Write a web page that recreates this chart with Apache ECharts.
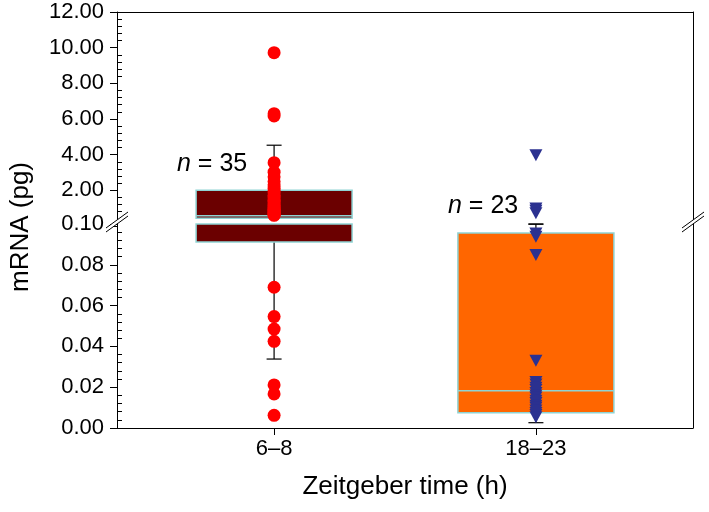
<!DOCTYPE html>
<html><head><meta charset="utf-8">
<script src="https://cdn.jsdelivr.net/npm/echarts@6/dist/echarts.min.js"></script>
<style>html,body{margin:0;padding:0;background:#fff}#c{width:709px;height:512px}</style>
</head><body><div id="c"></div>
<script>
// ---- data ----
const categories = ['6–8', '18–23'];
const groupN = [35, 23];
const group1Values = [9.72, 6.30, 6.17, 3.55, 3.02, 2.76, 2.49, 2.31, 2.12, 1.98, 1.86, 1.71, 1.62, 1.49, 1.41, 1.34, 1.24, 1.16, 1.07, 1.01, 0.94, 0.88, 0.83, 0.77, 0.71, 0.67, 0.63, 0.60,
  0.069, 0.0546, 0.0485, 0.0425, 0.0211, 0.0167, 0.0062];
const group2Values = [3.97, 0.98, 0.86, 0.72,
  0.0954, 0.0938, 0.0848, 0.033, 0.0226, 0.0213, 0.0197, 0.0186, 0.0172, 0.0159, 0.0149, 0.0133, 0.0122, 0.0109, 0.0099, 0.0086, 0.0073, 0.0064, 0.0053];
// box stats: [whiskerLow, q1, median, q3, whiskerHigh]
const group1Box = [0.0338, 0.0912, 0.58, 2.0, 4.53];
const group2Box = [0.0026, 0.0075, 0.0183, 0.0956, 0.1];
const lowerTickInterval = 0.02, upperTickInterval = 2;
const BREAK_AT = 0.1;      // top of the lower segment
const UPPER_BOX_CUT = 0.43; // box gap below the break in the upper segment

// ---- style ----
const FONT = 'Liberation Sans, Arial, sans-serif';
const boxFill = ['#6b0000', '#ff6600'];
const boxEdge = '#8fd3d3';
const BOX_W = 156, CAP_W = 15;

function clampSeg(a, b, lo, hi) {
  const s = Math.max(Math.min(a, b), lo), e = Math.min(Math.max(a, b), hi);
  return s < e ? [s, e] : null;
}
function makeRender(segLo, segHi, boxLo) {
  return function (params, api) {
    const x = api.value(0);
    const lo = api.value(1), q1 = api.value(2), med = api.value(3), q3 = api.value(4), hi = api.value(5);
    const children = [];
    const lineStyle = { stroke: '#000', lineWidth: 1.2 };
    const vline = (s) => {
      const p1 = api.coord([x, s[0]]), p2 = api.coord([x, s[1]]);
      children.push({ type: 'line', shape: { x1: p1[0], y1: p1[1], x2: p2[0], y2: p2[1] }, style: lineStyle });
    };
    const cap = (v) => {
      const p = api.coord([x, v]);
      children.push({ type: 'line', shape: { x1: p[0] - CAP_W / 2, y1: p[1], x2: p[0] + CAP_W / 2, y2: p[1] }, style: lineStyle });
    };
    let s = clampSeg(q3, hi, segLo, segHi); if (s) vline(s);
    if (hi >= segLo && hi <= segHi) cap(hi);
    s = clampSeg(lo, q1, segLo, segHi); if (s) vline(s);
    if (lo >= segLo && lo <= segHi) cap(lo);
    s = clampSeg(q1, q3, boxLo, segHi);
    if (s) {
      const top = api.coord([x, s[1]]), bot = api.coord([x, s[0]]);
      children.push({ type: 'rect', shape: { x: top[0] - BOX_W / 2, y: top[1], width: BOX_W, height: bot[1] - top[1] },
        style: { fill: boxFill[params.dataIndex], stroke: boxEdge, lineWidth: 1.5 } });
    }
    if (med >= boxLo && med <= segHi) {
      const p = api.coord([x, med]);
      children.push({ type: 'line', shape: { x1: p[0] - BOX_W / 2, y1: p[1], x2: p[0] + BOX_W / 2, y2: p[1] },
        style: { stroke: boxEdge, lineWidth: 1.5 } });
    }
    return { type: 'group', children };
  };
}
const boxData = [[1, ...group1Box], [2, ...group2Box]];
const pts = (vals, pos, upper) => vals.filter(v => upper ? v > BREAK_AT : v <= BREAK_AT).map(v => [pos, v]);

const yTickLabel = { fontSize: 22, color: '#000', fontFamily: FONT, margin: 13 };
const axisLineBlack = { show: true, onZero: false, lineStyle: { color: '#000', width: 1 } };

const chart = echarts.init(document.getElementById('c'), null, { renderer: 'canvas' });
chart.setOption({
  animation: false,
  textStyle: { fontFamily: FONT },
  grid: [
    { left: 117, right: 16, top: 12, height: 214 },
    { left: 117, right: 16, top: 224, bottom: 84 }
  ],
  xAxis: [
    { gridIndex: 0, type: 'value', min: 0.4, max: 2.6, position: 'top',
      axisLine: axisLineBlack, axisTick: { show: false }, axisLabel: { show: false }, splitLine: { show: false } },
    { gridIndex: 1, type: 'value', min: 0.4, max: 2.6, position: 'bottom',
      axisLine: axisLineBlack,
      axisTick: { show: true, customValues: [1, 2], length: 7, lineStyle: { color: '#000' } },
      axisLabel: { customValues: [1, 2], formatter: v => categories[Math.round(v) - 1] || '', fontSize: 22, color: '#000', margin: 10, fontFamily: FONT },
      splitLine: { show: false },
      name: 'Zeitgeber time (h)', nameLocation: 'middle', nameGap: 46,
      nameTextStyle: { fontSize: 26, color: '#000', fontFamily: FONT } }
  ],
  yAxis: [
    { gridIndex: 0, type: 'value', min: 0, max: 12, interval: upperTickInterval, position: 'left',
      axisLine: axisLineBlack, axisTick: { show: true, length: 7, lineStyle: { color: '#000' } },
      minorTick: { show: true, splitNumber: 5, length: -5, lineStyle: { color: '#000' } },
      axisLabel: Object.assign({ formatter: v => v === 0 ? '' : v.toFixed(2) }, yTickLabel),
      splitLine: { show: false } },
    { gridIndex: 0, type: 'value', min: 0, max: 12, position: 'right',
      axisLine: axisLineBlack, axisTick: { show: false }, axisLabel: { show: false }, splitLine: { show: false } },
    { gridIndex: 1, type: 'value', min: 0, max: BREAK_AT, interval: lowerTickInterval, position: 'left',
      axisLine: axisLineBlack, axisTick: { show: true, length: 7, lineStyle: { color: '#000' } },
      minorTick: { show: true, splitNumber: 5, length: -5, lineStyle: { color: '#000' } },
      axisLabel: Object.assign({ formatter: v => v.toFixed(2) }, yTickLabel),
      splitLine: { show: false } },
    { gridIndex: 1, type: 'value', min: 0, max: BREAK_AT, position: 'right',
      axisLine: axisLineBlack, axisTick: { show: false }, axisLabel: { show: false }, splitLine: { show: false } }
  ],
  series: [
    { type: 'custom', xAxisIndex: 0, yAxisIndex: 0, data: boxData, renderItem: makeRender(BREAK_AT, 12, UPPER_BOX_CUT), z: 2, clip: false },
    { type: 'custom', xAxisIndex: 1, yAxisIndex: 2, data: boxData, renderItem: makeRender(0, BREAK_AT, 0), z: 2, clip: false },
    { type: 'scatter', xAxisIndex: 0, yAxisIndex: 0, data: pts(group1Values, 1, true), symbol: 'circle', symbolSize: 13, itemStyle: { color: '#ff0000', opacity: 1 }, z: 5 },
    { type: 'scatter', xAxisIndex: 1, yAxisIndex: 2, data: pts(group1Values, 1, false), symbol: 'circle', symbolSize: 13, itemStyle: { color: '#ff0000', opacity: 1 }, z: 5 },
    { type: 'scatter', xAxisIndex: 0, yAxisIndex: 0, data: pts(group2Values, 2, true), symbol: 'triangle', symbolRotate: 180, symbolSize: [13, 12], itemStyle: { color: '#2b3190', opacity: 1 }, z: 5 },
    { type: 'scatter', xAxisIndex: 1, yAxisIndex: 2, data: pts(group2Values, 2, false), symbol: 'triangle', symbolRotate: 180, symbolSize: [13, 12], itemStyle: { color: '#2b3190', opacity: 1 }, z: 5 }
  ],
  graphic: [
    { type: 'polygon', shape: { points: [[106, 228], [128, 212], [128, 216], [106, 232]] }, style: { fill: '#fff' }, z: 100 },
    { type: 'line', shape: { x1: 106, y1: 228, x2: 128, y2: 212 }, style: { stroke: '#000', lineWidth: 1 }, z: 101 },
    { type: 'line', shape: { x1: 106, y1: 232, x2: 128, y2: 216 }, style: { stroke: '#000', lineWidth: 1 }, z: 101 },
    { type: 'polygon', shape: { points: [[682, 228], [704, 212], [704, 216], [682, 232]] }, style: { fill: '#fff' }, z: 100 },
    { type: 'line', shape: { x1: 682, y1: 228, x2: 704, y2: 212 }, style: { stroke: '#000', lineWidth: 1 }, z: 101 },
    { type: 'line', shape: { x1: 682, y1: 232, x2: 704, y2: 216 }, style: { stroke: '#000', lineWidth: 1 }, z: 101 },
    { type: 'text', x: 21, y: 227, rotation: Math.PI / 2, z: 100,
      style: { text: 'mRNA (pg)', font: '26px ' + FONT, fill: '#000', align: 'center', verticalAlign: 'middle', textAlign: 'center', textVerticalAlign: 'middle' } },
    { type: 'text', x: 177, y: 164, z: 100,
      style: { text: '{i|n} = ' + groupN[0], font: '25px ' + FONT, fill: '#000', verticalAlign: 'middle', textVerticalAlign: 'middle',
        rich: { i: { fontStyle: 'italic', fontSize: 25, fontFamily: FONT } } } },
    { type: 'text', x: 448, y: 206, z: 100,
      style: { text: '{i|n} = ' + groupN[1], font: '25px ' + FONT, fill: '#000', verticalAlign: 'middle', textVerticalAlign: 'middle',
        rich: { i: { fontStyle: 'italic', fontSize: 25, fontFamily: FONT } } } }
  ]
});
</script>
</body></html>
